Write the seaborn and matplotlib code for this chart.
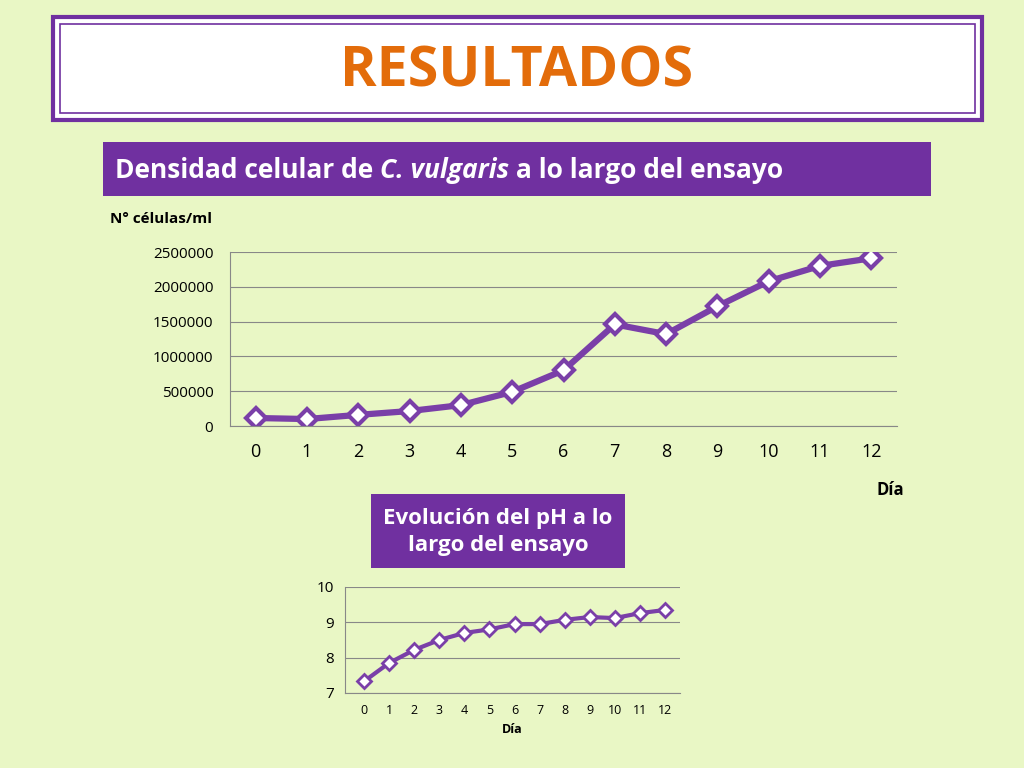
import matplotlib
matplotlib.use("Agg")
import matplotlib.pyplot as plt
import seaborn as sns
import pandas as pd
from matplotlib.patches import Rectangle

days = list(range(13))
cells = [115000, 100000, 160000, 215000, 300000, 490000, 800000, 1460000, 1320000, 1720000, 2080000, 2300000, 2410000]
ph = [7.33, 7.85, 8.22, 8.5, 8.7, 8.8, 8.95, 8.95, 9.07, 9.15, 9.12, 9.26, 9.35]

BG = "#e9f7c5"
PURPLE = "#7030a0"
LINE = "#7a3fa8"
W, H = 1024, 768
fig = plt.figure(figsize=(10.24, 7.68), dpi=100, facecolor=BG)
plt.rcParams["font.family"] = "Open Sans"

def fx(x): return x / W
def fy(y): return 1 - y / H

# title box
fig.patches.append(Rectangle((fx(53), fy(120)), fx(982)-fx(53), fy(17)-fy(120), transform=fig.transFigure,
                             facecolor="white", edgecolor=PURPLE, lw=3))
fig.patches.append(Rectangle((fx(60), fy(113)), fx(975)-fx(60), fy(24)-fy(113), transform=fig.transFigure,
                             facecolor="white", edgecolor=PURPLE, lw=1.2))
fig.text(fx(517), fy(72), "RESULTADOS", ha="center", va="center", fontsize=40, fontweight="bold", color="#e36c0a")

# subtitle box
fig.patches.append(Rectangle((fx(103), fy(196)), fx(931)-fx(103), fy(142)-fy(196), transform=fig.transFigure,
                             facecolor=PURPLE, edgecolor="none"))
renderer = fig.canvas.get_renderer()
xpos = 115
for txt, style in [("Densidad celular de ", "normal"), ("C. vulgaris", "italic"), (" a lo largo del ensayo", "normal")]:
    t = fig.text(fx(xpos), fy(171), txt, ha="left", va="center", fontsize=19, fontweight="bold",
                 fontstyle=style, color="white")
    xpos += t.get_window_extent(renderer).width

df1 = pd.DataFrame({"Día": days, "cells": cells})
ax1 = fig.add_axes([fx(230), fy(426), fx(897)-fx(230), fy(252)-fy(426)])
ax1.set_facecolor(BG)
sns.lineplot(data=df1, x="Día", y="cells", ax=ax1, color=LINE, lw=4.5, marker="D", markersize=10,
             markerfacecolor="white", markeredgecolor=LINE, markeredgewidth=3)
ax1.set_xlim(-0.5, 12.5); ax1.set_ylim(0, 2500000)
ax1.set_yticks(range(0, 2500001, 500000)); ax1.set_xticks(days)
ax1.set_yticklabels([str(v) for v in range(0, 2500001, 500000)], fontsize=11)
ax1.set_xticklabels([str(d) for d in days], fontsize=13)
ax1.grid(axis="y", color="#888888", lw=0.8); ax1.set_axisbelow(True)
for s in ["top", "right"]: ax1.spines[s].set_visible(False)
ax1.spines["left"].set_color("#888888"); ax1.spines["bottom"].set_color("#888888")
ax1.tick_params(length=0, pad=12)
ax1.set_xlabel(""); ax1.set_ylabel("")
fig.text(fx(110), fy(219), "N° células/ml", fontsize=11, fontweight="bold", va="center")
fig.text(fx(876), fy(490), "Día", fontsize=12, fontweight="bold", va="center")

# pH box
fig.patches.append(Rectangle((fx(371), fy(568)), fx(625)-fx(371), fy(494)-fy(568), transform=fig.transFigure,
                             facecolor=PURPLE, edgecolor="none"))
fig.text(fx(498), fy(532), "Evolución del pH a lo\nlargo del ensayo", ha="center", va="center",
         fontsize=16, fontweight="bold", color="white", linespacing=1.4)

df2 = pd.DataFrame({"Día": days, "pH": ph})
ax2 = fig.add_axes([fx(345), fy(693), fx(680)-fx(345), fy(587)-fy(693)])
ax2.set_facecolor(BG)
sns.lineplot(data=df2, x="Día", y="pH", ax=ax2, color=LINE, lw=3, marker="D", markersize=7,
             markerfacecolor="white", markeredgecolor=LINE, markeredgewidth=2)
ax2.set_xlim(-0.76, 12.6); ax2.set_ylim(7, 10)
ax2.set_yticks([7, 8, 9, 10]); ax2.set_xticks(days)
ax2.set_yticklabels(["7", "8", "9", "10"], fontsize=11)
ax2.set_xticklabels([str(d) for d in days], fontsize=9)
ax2.grid(axis="y", color="#888888", lw=0.8); ax2.set_axisbelow(True)
for s in ["top", "right"]: ax2.spines[s].set_visible(False)
ax2.spines["left"].set_color("#888888"); ax2.spines["bottom"].set_color("#888888")
ax2.tick_params(length=0, pad=8)
ax2.set_xlabel("Día", fontsize=9, fontweight="bold"); ax2.set_ylabel("")

fig.savefig("out.png", dpi=100, facecolor=BG)
